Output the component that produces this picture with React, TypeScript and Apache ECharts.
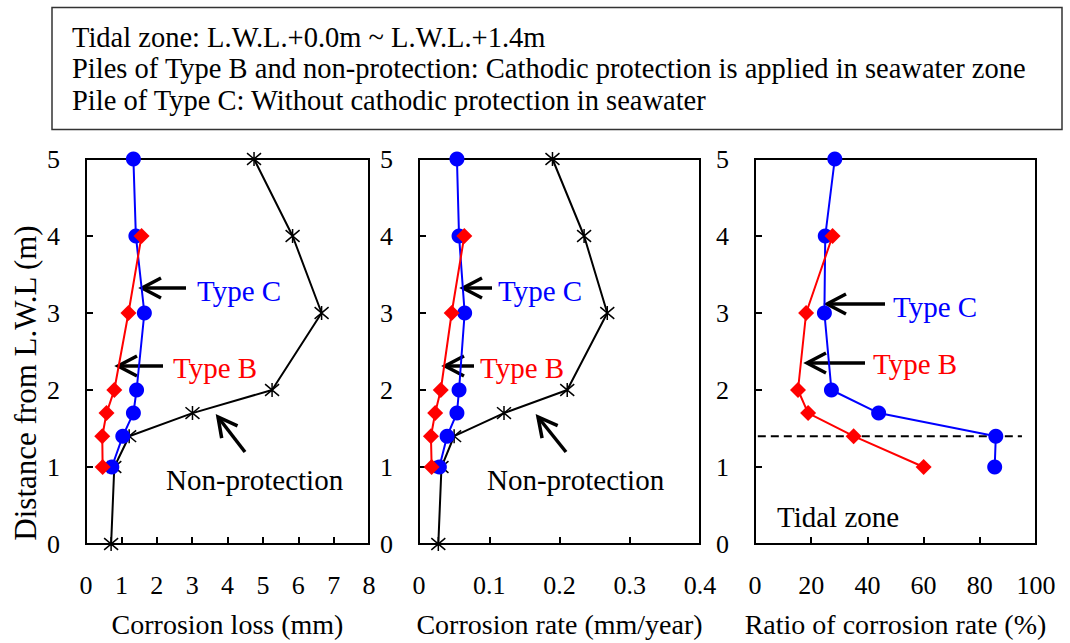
import React, { useEffect, useRef } from "react";
import * as echarts from "echarts";

// Heights (m from L.W.L.)
const heightsC = [5, 4, 3, 2, 1.7, 1.4, 1];
const heightsB = [4, 3, 2, 1.7, 1.4, 1];
const heightsNP = [5, 4, 3, 2, 1.7, 1.4, 1, 0];

// Corrosion loss (mm)
const lossC = [1.34, 1.41, 1.65, 1.43, 1.34, 1.04, 0.73];
const lossB = [1.57, 1.2, 0.8, 0.58, 0.46, 0.47];
const lossNP = [4.75, 5.84, 6.66, 5.26, 3.01, 1.22, 0.8, 0.71];

// Corrosion rate (mm/year)
const rateC = [0.054, 0.057, 0.065, 0.057, 0.054, 0.04, 0.029];
const rateB = [0.0645, 0.0465, 0.031, 0.023, 0.017, 0.018];
const rateNP = [0.19, 0.235, 0.268, 0.211, 0.121, 0.05, 0.032, 0.0275];

// Ratio of corrosion rate (%)
const ratioC = [28.4, 25.0, 24.7, 27.2, 44.0, 85.7, 85.3];
const ratioB = [27.6, 18.2, 15.3, 18.9, 35.1, 60.0];

// Tidal zone upper level
const tidalLevel = 1.4;
const tidalLineX = [1, 95];

const headerLines = [
  "Tidal zone: L.W.L.+0.0m ~ L.W.L.+1.4m",
  "Piles of Type B and non-protection: Cathodic protection is applied in seawater zone",
  "Pile of Type C: Without cathodic protection in seawater",
];

const FONT = "Times New Roman, Liberation Serif, serif";
const BLUE = "#0000ff";
const RED = "#ff0000";
const STAR = "path://M0 0L20 20M20 0L0 20M10 -2L10 22";

const pairs = (xs: number[], ys: number[]) => xs.map((x, i) => [x, ys[i]]);

function arrow(x1: number, y1: number, x2: number, y2: number) {
  const dx = x2 - x1, dy = y2 - y1;
  const L = Math.hypot(dx, dy);
  const ux = dx / L, uy = dy / L;
  const h = 19, w = 10;
  const bx = x2 - ux * h, by = y2 - uy * h;
  const px = -uy, py = ux;
  return [
    { type: "line", shape: { x1, y1, x2, y2 }, style: { stroke: "#000", lineWidth: 3.5 } },
    {
      type: "polyline",
      shape: { points: [[bx + px * w, by + py * w], [x2, y2], [bx - px * w, by - py * w]] },
      style: { stroke: "#000", lineWidth: 3.5, fill: null },
    },
  ];
}

function label(text: string, x: number, y: number, color: string) {
  return {
    type: "text",
    style: { text, x, y, fill: color, font: "29px " + FONT, align: "left", verticalAlign: "middle" },
  };
}

export default function App() {
  const ref = useRef<HTMLDivElement>(null);
  useEffect(() => {
    if (!ref.current) return;
    const chart = echarts.init(ref.current, undefined, { renderer: "svg" });
    const grids = [
      { left: 86, top: 159, width: 283, height: 394 },
      { left: 419, top: 159, width: 281, height: 394 },
      { left: 755, top: 159, width: 281, height: 394 },
    ].map((g) => ({ ...g, show: true, borderColor: "#000", borderWidth: 2, backgroundColor: "transparent" }));

    const xDefs = [
      { min: 0, max: 8, interval: 1, name: "Corrosion loss (mm)" },
      { min: 0, max: 0.4, interval: 0.1, name: "Corrosion rate (mm/year)" },
      { min: 0, max: 100, interval: 20, name: "Ratio of corrosion rate (%)" },
    ];
    const xAxis = xDefs.map((d, i) => ({
      type: "value",
      gridIndex: i,
      min: d.min,
      max: d.max,
      interval: d.interval,
      name: d.name,
      nameLocation: "middle",
      nameGap: 66,
      nameTextStyle: { fontSize: 28, color: "#000", fontFamily: FONT },
      axisLine: { show: true, lineStyle: { color: "#000", width: 2 } },
      axisTick: { show: true, inside: true, length: 7, lineStyle: { color: "#000", width: 2 } },
      axisLabel: { fontSize: 26, color: "#000", fontFamily: FONT, margin: 28, showMinLabel: true, showMaxLabel: true },
      splitLine: { show: false },
    }));
    const yAxis = [0, 1, 2].map((i) => ({
      type: "value",
      gridIndex: i,
      min: 0,
      max: 5,
      interval: 1,
      axisLine: { show: true, lineStyle: { color: "#000", width: 2 } },
      axisTick: { show: true, inside: true, length: 7, lineStyle: { color: "#000", width: 2 } },
      axisLabel: { fontSize: 26, color: "#000", fontFamily: FONT, margin: 26 },
      splitLine: { show: false },
    }));

    const mk = (idx: number, data: number[][], kind: "C" | "B" | "NP") => ({
      type: "line",
      xAxisIndex: idx,
      yAxisIndex: idx,
      data,
      symbol: kind === "C" ? "circle" : kind === "B" ? "diamond" : STAR,
      symbolSize: kind === "C" ? 15 : kind === "B" ? 16 : 14,
      lineStyle: { color: kind === "C" ? BLUE : kind === "B" ? RED : "#000", width: 2 },
      itemStyle:
        kind === "NP"
          ? { color: "#000", borderColor: "#000", borderWidth: 1.5 }
          : { color: kind === "C" ? BLUE : RED, borderWidth: 0 },
      z: kind === "B" ? 4 : 3,
    });

    const series: any[] = [
      mk(0, pairs(lossNP, heightsNP), "NP"),
      mk(0, pairs(lossC, heightsC), "C"),
      mk(0, pairs(lossB, heightsB), "B"),
      mk(1, pairs(rateNP, heightsNP), "NP"),
      mk(1, pairs(rateC, heightsC), "C"),
      mk(1, pairs(rateB, heightsB), "B"),
      {
        type: "line",
        xAxisIndex: 2,
        yAxisIndex: 2,
        data: tidalLineX.map((x) => [x, tidalLevel]),
        symbol: "none",
        lineStyle: { color: "#000", width: 2, type: [8, 5] },
        z: 2,
      },
      mk(2, pairs(ratioC, heightsC), "C"),
      mk(2, pairs(ratioB, heightsB), "B"),
    ];

    const graphic: any[] = [
      {
        type: "rect",
        shape: { x: 52, y: 7.5, width: 1010, height: 122 },
        style: { fill: "#fff", stroke: "#333", lineWidth: 1.5 },
      },
      ...headerLines.map((t, i) => ({
        type: "text",
        style: { text: t, x: 72, y: 37.5 + i * 31.3, fill: "#000", font: "28.5px " + FONT, align: "left", verticalAlign: "middle" },
      })),
      {
        type: "text",
        x: 25,
        y: 383,
        rotation: Math.PI / 2,
        style: { text: "Distance from L.W.L (m)", x: 0, y: 0, fill: "#000", font: "31px " + FONT, align: "center", verticalAlign: "middle" },
      },
      // panel 1
      ...arrow(186, 288, 142, 288),
      label("Type C", 197, 291, BLUE),
      ...arrow(163, 366, 118, 366),
      label("Type B", 173, 368, RED),
      ...arrow(245, 452, 218, 417),
      label("Non-protection", 166, 480, "#000"),
      // panel 2
      ...arrow(492, 288, 463, 288),
      label("Type C", 498, 291, BLUE),
      ...arrow(474, 366, 445, 366),
      label("Type B", 480, 368, RED),
      ...arrow(566, 452, 538, 417),
      label("Non-protection", 487, 480, "#000"),
      // panel 3
      ...arrow(885, 304, 827, 304),
      label("Type C", 893, 307, BLUE),
      ...arrow(865, 363, 807, 363),
      label("Type B", 873, 364, RED),
      label("Tidal zone", 777, 517, "#000"),
    ];

    chart.setOption({
      animation: false,
      backgroundColor: "#fff",
      textStyle: { fontFamily: FONT },
      grid: grids,
      xAxis,
      yAxis,
      series,
      graphic,
    });
    return () => chart.dispose();
  }, []);
  return <div ref={ref} style={{ position: "absolute", left: 0, top: 0, width: 1070, height: 643 }} />;
}
